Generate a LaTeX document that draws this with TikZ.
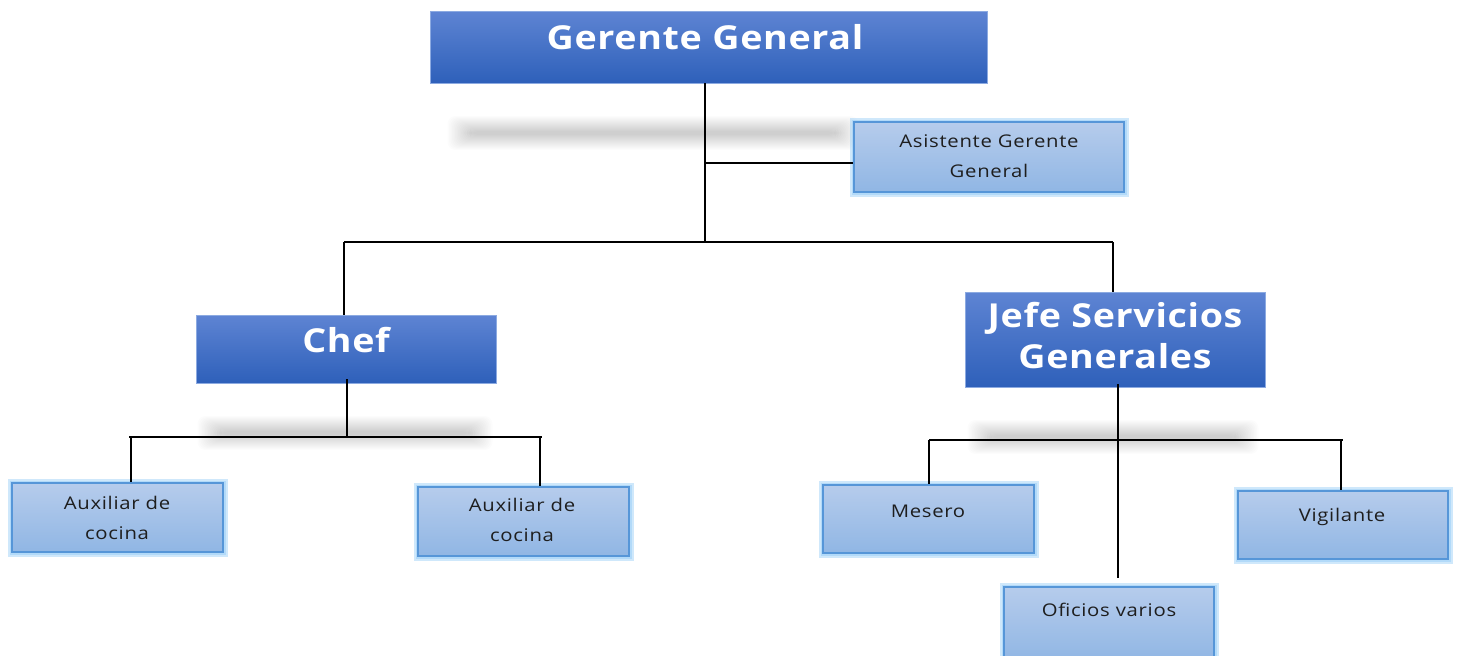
\documentclass[tikz,border=0pt]{standalone}
\usepackage{fontspec}
\setmainfont{Open Sans}
\newfontfamily\headfont[FakeStretch=1.14,LetterSpace=2]{Open Sans Bold}
\newfontfamily\boxfont[FakeStretch=1.16,LetterSpace=4]{Open Sans}

\definecolor{headtop}{RGB}{94,132,211}
\definecolor{headbot}{RGB}{46,96,186}
\definecolor{headedge}{RGB}{140,170,225}
\definecolor{subtop}{RGB}{182,204,236}
\definecolor{subbot}{RGB}{144,182,228}
\definecolor{subedge}{RGB}{86,150,216}
\definecolor{subglow}{RGB}{150,205,248}
\definecolor{txtdark}{RGB}{30,30,30}

\tikzset{
  headbox/.style={rectangle, inner sep=0pt, top color=headtop, bottom color=headbot,
    draw=headedge, line width=0.8pt},
  subbox/.style={rectangle, inner sep=0pt, top color=subtop, bottom color=subbot,
    draw=subedge, line width=2pt,
    preaction={draw=subglow, line width=9pt, opacity=0.45},
    preaction={draw=subglow, line width=5pt, opacity=0.5}},
  headtxt/.style={inner sep=0pt, text=white, align=center,
    font=\headfont\fontsize{33}{41}\selectfont},
  subtxt/.style={inner sep=0pt, text=txtdark, align=center,
    font=\boxfont\fontsize{17.5}{30}\selectfont},
  link/.style={draw=black, line width=1.8pt},
}

% soft grey bar used as a diffuse drop shadow
\newcommand{\softbar}[3]{%
  \foreach \k in {1,...,16}{%
    \fill[black, opacity=0.011, rounded corners=8pt]
      ({#1+1.5*\k}, {#3-18+\k}) rectangle ({#2-1.5*\k}, {#3+18-\k});
  }%
}

\begin{document}
\begin{tikzpicture}[x=1pt,y=-1pt]
\useasboundingbox (0,0) rectangle (1457,656);
\clip (0,0) rectangle (1457,656);
\fill[white] (0,0) rectangle (1457,656);

% diffuse shadows
\softbar{446}{860}{133}
\softbar{196}{494}{433}
\softbar{966}{1260}{437}

% boxes
\node[headbox, minimum width=557pt, minimum height=72pt] (gg)   at (708.5,47) {};
\node[subbox,  minimum width=270pt, minimum height=70pt] (asis) at (989,157) {};
\node[headbox, minimum width=300pt, minimum height=68pt] (chef) at (346,349) {};
\node[headbox, minimum width=300pt, minimum height=95pt] (jefe) at (1115,339.5) {};
\node[subbox,  minimum width=211pt, minimum height=69pt] (aux1) at (117.5,517.5) {};
\node[subbox,  minimum width=211pt, minimum height=69pt] (aux2) at (523.5,521.5) {};
\node[subbox,  minimum width=211pt, minimum height=68pt] (mes)  at (928.5,519) {};
\node[subbox,  minimum width=210pt, minimum height=68pt] (vig)  at (1343,525) {};
\node[subbox,  minimum width=210pt, minimum height=74pt] (ofi)  at (1109,624) {};

% labels
\node[headtxt] (ggt)   at (705,37)  {Gerente General};
\node[headtxt] (cheft) at (346,340) {Chef};
\node[headtxt] (jefet) at (1115,336) {Jefe Servicios\\Generales};
\node[subtxt]  (asist) at (989,156) {Asistente Gerente\\General};
\node[subtxt]  (aux1t) at (117,518) {Auxiliar de\\cocina};
\node[subtxt]  (aux2t) at (522,520) {Auxiliar de\\cocina};
\node[subtxt]  (mest)  at (928,511) {Mesero};
\node[subtxt]  (vigt)  at (1342,517) {Vigilante};
\node[subtxt]  (ofit)  at (1109,610) {Oficios varios};

% junction points
\coordinate (top)  at (705,242);
\coordinate (asj)  at (705,163);
\coordinate (barL) at (344,242);
\coordinate (barR) at (1113,242);
\coordinate (cj)   at (347,437);
\coordinate (cL)   at (131,437);
\coordinate (cR)   at (540,437);
\coordinate (jj)   at (1118,440);
\coordinate (jL)   at (929,440);
\coordinate (jR)   at (1341,440);
\coordinate (jend) at (1118,578);

% connectors: general manager
\draw[link] (gg.south -| top) -- (top);
\draw[link] (asj) -- (asj -| asis.west);
\draw[link] (barL) -- (barR);
\draw[link] (barL) -- (barL |- chef.north);
\draw[link] (barR) -- (barR |- jefe.north);

% connectors: chef
\draw[link] ([yshift=4pt]chef.south -| cj) -- (cj);
\draw[link] ([xshift=-2pt]cL) -- ([xshift=2pt]cR);
\draw[link] (cL) -- (cL |- aux1.north);
\draw[link] (cR) -- (cR |- aux2.north);

% connectors: jefe servicios generales
\draw[link] ([yshift=3pt]jefe.south -| jj) -- (jend);
\draw[link] (jL) -- ([xshift=2pt]jR);
\draw[link] (jL) -- (jL |- mes.north);
\draw[link] (jR) -- (jR |- vig.north);
\end{tikzpicture}
\end{document}
